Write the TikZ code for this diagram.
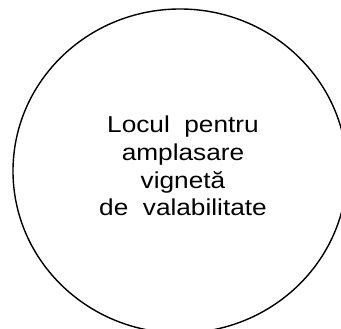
\documentclass[tikz,border=0pt]{standalone}
\usepackage{fontspec}
\setmainfont{Liberation Sans}[FakeStretch=1.14]
\usetikzlibrary{shapes, positioning}

\begin{document}
\begin{tikzpicture}[
        x=1pt, y=1pt,
        spot/.style={ellipse, draw, line width=1.4pt, minimum width=334pt, minimum height=324pt, inner sep=0pt},
        label/.style={align=center, inner sep=0pt, font=\fontsize{23}{27.7}\selectfont}
    ]
        % Page
        \clip (0,0) rectangle (341,329);
        \useasboundingbox (0,0) rectangle (341,329);

        % Sticker place
        \node[spot] (place) at (180,158) {};
        \node[label, anchor=north] (text) at (183,213) {Locul~~pentru\\amplasare\\vignetă\\de~~valabilitate};
    \end{tikzpicture}
\end{document}
